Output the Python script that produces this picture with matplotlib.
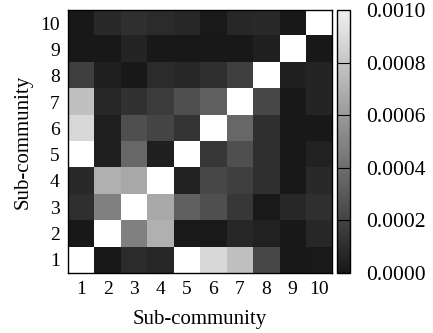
import numpy as np
import matplotlib
matplotlib.use("Agg")
import matplotlib.pyplot as plt
from matplotlib.colors import LinearSegmentedColormap

plt.rcParams['font.family'] = ['Liberation Serif', 'DejaVu Serif']

labels = [str(i) for i in range(1, 11)]
# values in units of 1e-4; rows = y (1..10 from bottom), cols = x (1..10)
W = 12.0
rows_e4 = [
    [W,    0.0,  0.93, 0.74, W,    8.89, 7.78, 2.22, 0.0,  0.1],   # y=1
    [0.0,  W,    4.81, 7.04, 0.1,  0.1,  0.74, 0.46, 0.0,  0.74],  # y=2
    [1.11, 4.81, W,    6.67, 3.33, 2.59, 1.48, 0.1,  0.74, 1.11],  # y=3
    [0.83, 7.04, 6.67, W,    0.46, 2.22, 1.85, 1.11, 0.0,  0.83],  # y=4
    [W,    0.37, 3.70, 0.37, W,    1.48, 2.59, 1.11, 0.0,  0.46],  # y=5
    [8.89, 0.37, 2.59, 2.04, 1.34, W,    3.70, 1.11, 0.0,  0.0],   # y=6
    [7.78, 0.74, 1.20, 1.67, 2.59, 3.33, W,    2.22, 0.0,  0.6],   # y=7
    [1.85, 0.37, 0.0,  0.93, 0.74, 1.11, 1.85, W,    0.37, 0.6],   # y=8
    [0.0,  0.0,  0.6,  0.0,  0.0,  0.0,  0.0,  0.37, W,    0.0],   # y=9
    [0.0,  0.83, 1.11, 0.93, 0.74, 0.1,  0.74, 0.83, 0.0,  W],     # y=10
]
values = np.array(rows_e4) * 1e-4
vmin, vmax = 0.0, 0.001
cbar_ticks = [0.0, 0.0002, 0.0004, 0.0006, 0.0008, 0.0010]

lo, hi = 0x18 / 255, 0xf0 / 255
cmap = LinearSegmentedColormap.from_list('g', [(lo, lo, lo), (hi, hi, hi)])
cmap.set_over('white')

fig = plt.figure(figsize=(4.33, 3.33), dpi=100)
ax = fig.add_axes([0.157, 0.18, 0.61, 0.79])
im = ax.imshow(values, cmap=cmap, vmin=vmin, vmax=vmax, origin='lower',
               aspect='auto', interpolation='nearest')
ax.set_xticks(range(10))
ax.set_xticklabels(labels)
ax.set_yticks(range(10))
ax.set_yticklabels(labels)
ax.tick_params(length=0, labelsize=14, pad=6)
for s in ax.spines.values():
    s.set_linewidth(1.0)
ax.set_xlabel('Sub-community', fontsize=15, labelpad=8)
ax.set_ylabel('Sub-community', fontsize=15, labelpad=5)

cax = fig.add_axes([0.778, 0.18, 0.030, 0.79])
cb = fig.colorbar(im, cax=cax, ticks=cbar_ticks)
cb.ax.set_yticklabels(['%.4f' % t for t in cbar_ticks])
cb.ax.tick_params(length=0, labelsize=15.5, pad=12)
for t in cbar_ticks[1:-1]:
    cb.ax.axhline(t, color='black', lw=0.8)
cb.outline.set_linewidth(1.0)

fig.savefig('out.png', dpi=100)
